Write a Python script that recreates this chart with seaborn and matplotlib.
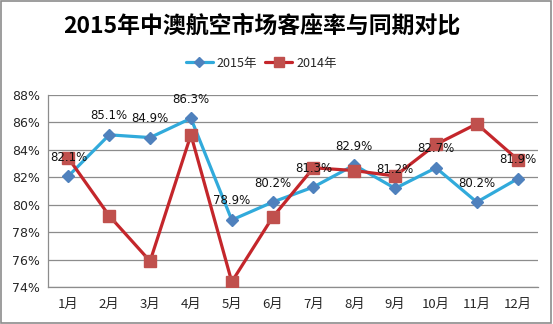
import matplotlib
matplotlib.use("Agg")
import matplotlib.pyplot as plt
import seaborn as sns
import pandas as pd
from matplotlib.patches import Rectangle
from matplotlib.lines import Line2D

months = ["1月", "2月", "3月", "4月", "5月", "6月", "7月", "8月", "9月", "10月", "11月", "12月"]
rate_2015 = [82.1, 85.1, 84.9, 86.3, 78.9, 80.2, 81.3, 82.9, 81.2, 82.7, 80.2, 81.9]
rate_2014 = [83.4, 79.2, 75.9, 85.1, 74.4, 79.1, 82.7, 82.5, 82.1, 84.4, 85.9, 83.3]
series_names = ["2015年", "2014年"]
yticks = [74, 76, 78, 80, 82, 84, 86, 88]

sns.set_theme(style="white")
plt.rcParams['font.family'] = ['Noto Sans CJK SC', 'DejaVu Sans']

df = pd.DataFrame({
    "month": months * 2,
    "pos": list(range(len(months))) * 2,
    "rate": rate_2015 + rate_2014,
    "series": [series_names[0]] * len(months) + [series_names[1]] * len(months),
})

fig = plt.figure(figsize=(5.53, 3.24), dpi=100)
ax = fig.add_axes([0.0868, 0.1133, 0.8862, 0.5935])

line_colors = {"2015年": "#31AADB", "2014年": "#C4262B"}
sns.lineplot(data=df, x="pos", y="rate", hue="series", palette=line_colors,
             linewidth=2.3, legend=False, ax=ax, sort=False)
mk = {"2015年": ("D", "#4F81BD", 6.0), "2014年": ("s", "#C0504D", 8.0)}
for name in series_names:
    sub = df[df.series == name]
    m, c, s = mk[name]
    ax.plot(sub.pos, sub.rate, linestyle="none", marker=m, color=c, markersize=s, zorder=4)

for x, v in zip(range(len(months)), rate_2015):
    ax.annotate(f"{v:.1f}%", (x, v), xytext=(0, 9), textcoords="offset points",
                ha="center", va="bottom", fontsize=8.5, color="#111111",
                family=['DejaVu Sans'], zorder=6)

ax.set_xlim(-0.5, len(months) - 0.5)
ax.set_ylim(74, 88)
ax.set_xticks(range(len(months)))
ax.set_xticklabels(months, fontsize=9.5)
ax.set_yticks(yticks)
ax.set_yticklabels([f"{t}%" for t in yticks], fontsize=9, family=['DejaVu Sans'])
ax.tick_params(axis="x", length=0, pad=8)
ax.tick_params(axis="y", length=0, pad=6)
ax.yaxis.grid(True, color="#8C8C8C", linewidth=0.9)
ax.set_axisbelow(True)
ax.set_xlabel("")
ax.set_ylabel("")
for side in ["top", "right"]:
    ax.spines[side].set_visible(False)
for side in ["left", "bottom"]:
    ax.spines[side].set_color("#8C8C8C")
    ax.spines[side].set_linewidth(0.9)

handles = [Line2D([0], [0], color=line_colors[n], lw=2.3, marker=mk[n][0],
                  markerfacecolor=mk[n][1], markeredgecolor=mk[n][1], markersize=mk[n][2] * 0.85)
           for n in series_names]
fig.legend(handles, series_names, loc="center", bbox_to_anchor=(0.472, 0.805), ncol=2,
           frameon=False, fontsize=9, handlelength=2.2, columnspacing=0.6, handletextpad=0.3)

fig.text(0.473, 0.92, "2015年中澳航空市场客座率与同期对比", ha="center", va="center",
         fontsize=16.5, fontweight="bold", color="#000000")

fig.patches.append(Rectangle((0.002, 0.003), 0.995, 0.994, transform=fig.transFigure,
                             fill=False, edgecolor="#8C8C8C", linewidth=1.2))

fig.savefig("out.png", dpi=100)
